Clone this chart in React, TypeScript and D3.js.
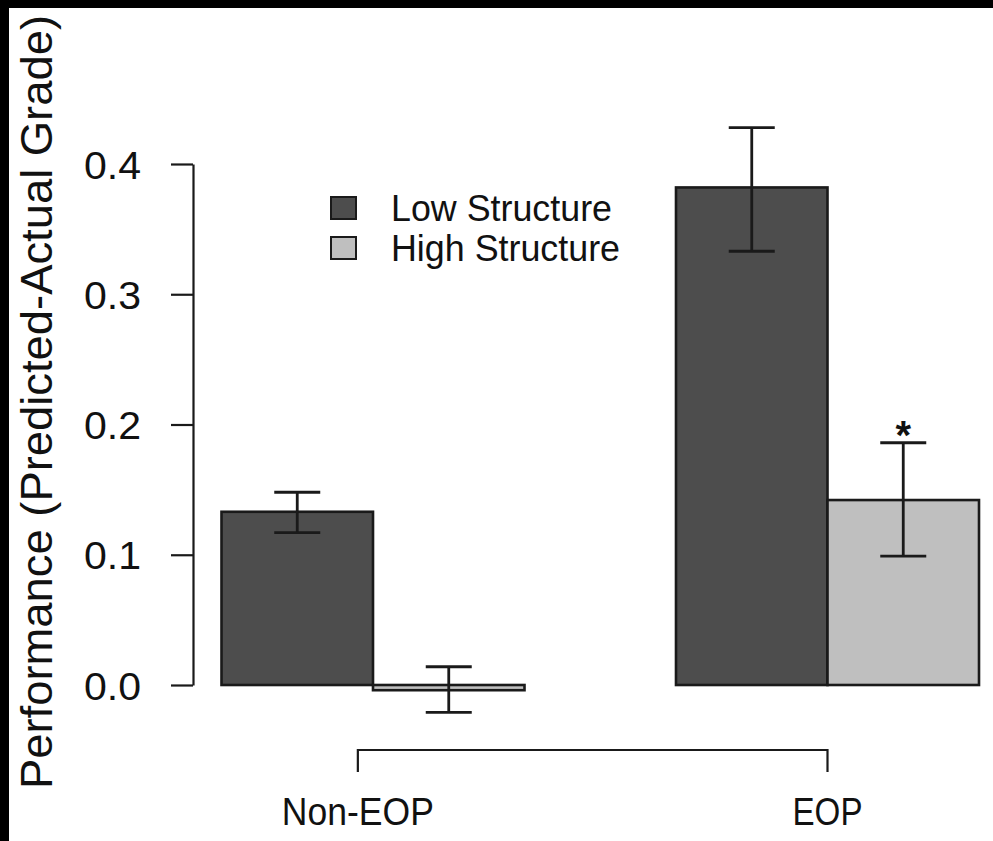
import { useEffect, useRef } from "react";
import * as d3 from "d3";

const groups = ["Non-EOP", "EOP"];
const seriesNames = ["Low Structure", "High Structure"];
const seriesColors = ["#4d4d4d", "#bfbfbf"];
// mean, lower, upper per group for each series
const lowMeans = [0.133, 0.382];
const lowLower = [0.117, 0.333];
const lowUpper = [0.148, 0.428];
const highMeans = [-0.004, 0.142];
const highLower = [-0.021, 0.099];
const highUpper = [0.014, 0.186];
const yTicks = [0, 0.1, 0.2, 0.3, 0.4];
const groupAxisAt = [1.9, 5];
const starred = [false, true];

export default function App() {
    const svgRef = useRef<SVGSVGElement>(null);

    useEffect(() => {
        const svg = d3.select(svgRef.current);
        svg.selectAll("*").remove();

        const width = 993;
        const height = 841;
        const font = "'Liberation Sans', Arial, Helvetica, sans-serif";

        svg.append("rect").attr("width", width).attr("height", height).attr("fill", "#000");
        svg.append("rect").attr("x", 9).attr("y", 8).attr("width", width - 9).attr("height", height - 8).attr("fill", "#fff");

        // bar units like R barplot(beside=TRUE, space=c(0,1))
        const x = d3.scaleLinear().domain([0, 6]).range([70, 979]);
        const y = d3.scaleLinear().domain([0, 0.4]).range([685, 164]);

        const bars = groups.flatMap((g, i) => [
            { g, i, s: 0, v: lowMeans[i], lo: lowLower[i], hi: lowUpper[i] },
            { g, i, s: 1, v: highMeans[i], lo: highLower[i], hi: highUpper[i] },
        ]);

        const g = svg.append("g");

        g.selectAll(".bar")
            .data(bars)
            .enter()
            .append("rect")
            .attr("class", "bar")
            .attr("x", (d) => x(1 + d.i * 3 + d.s))
            .attr("width", x(1) - x(0))
            .attr("y", (d) => y(Math.max(0, d.v)))
            .attr("height", (d) => Math.abs(y(d.v) - y(0)))
            .attr("fill", (d) => seriesColors[d.s])
            .attr("stroke", "#1a1a1a")
            .attr("stroke-width", 2.6);

        // error bars
        const capW = 23;
        const eb = g.selectAll(".err").data(bars).enter().append("g").attr("class", "err")
            .attr("stroke", "#1a1a1a").attr("stroke-width", 2.8);
        const cx = (d) => x(1.5 + d.i * 3 + d.s);
        eb.append("line").attr("x1", cx).attr("x2", cx).attr("y1", (d) => y(d.lo)).attr("y2", (d) => y(d.hi));
        eb.append("line").attr("x1", (d) => cx(d) - capW).attr("x2", (d) => cx(d) + capW)
            .attr("y1", (d) => y(d.lo)).attr("y2", (d) => y(d.lo));
        eb.append("line").attr("x1", (d) => cx(d) - capW).attr("x2", (d) => cx(d) + capW)
            .attr("y1", (d) => y(d.hi)).attr("y2", (d) => y(d.hi));

        // significance star
        g.selectAll(".star")
            .data(bars.filter((d) => d.s === 1 && starred[d.i]))
            .enter()
            .append("text")
            .attr("x", cx)
            .attr("y", (d) => y(d.hi) + 6)
            .attr("text-anchor", "middle")
            .attr("font-family", font)
            .attr("font-size", 40)
            .attr("font-weight", "bold")
            .attr("fill", "#111")
            .text("*");

        // y axis
        const ax = svg.append("g").attr("transform", "translate(193,0)");
        ax.call(d3.axisLeft(y).tickValues(yTicks).tickSize(22).tickSizeOuter(0).tickPadding(30).tickFormat(d3.format(".1f")));
        ax.selectAll("line, path").attr("stroke", "#1a1a1a").attr("stroke-width", 2.2);
        ax.selectAll("text").attr("font-family", font).attr("font-size", 39).attr("fill", "#111").attr("dy", "0.36em")
            .attr("textLength", 57).attr("lengthAdjust", "spacingAndGlyphs");

        svg.append("text")
            .attr("transform", "translate(52,402) rotate(-90)")
            .attr("text-anchor", "middle")
            .attr("font-family", font)
            .attr("font-size", 44)
            .attr("fill", "#111")
            .attr("textLength", 774)
            .attr("lengthAdjust", "spacingAndGlyphs")
            .text("Performance (Predicted-Actual Grade)");

        // group bracket axis
        const bx = groupAxisAt.map((v) => x(v));
        svg.append("path")
            .attr("d", `M${bx[0]},772V750H${bx[1]}V772`)
            .attr("fill", "none")
            .attr("stroke", "#1a1a1a")
            .attr("stroke-width", 2.2);
        svg.selectAll(".glab")
            .data(groups)
            .enter()
            .append("text")
            .attr("x", (d, i) => bx[i])
            .attr("y", 825)
            .attr("text-anchor", "middle")
            .attr("font-family", font)
            .attr("font-size", 38)
            .attr("fill", "#111")
            .attr("textLength", (d) => (d === "EOP" ? 70 : 152))
            .attr("lengthAdjust", "spacingAndGlyphs")
            .text((d) => d);

        // legend
        const leg = svg.append("g").attr("transform", "translate(331,197)");
        const li = leg.selectAll("g").data(seriesNames).enter().append("g")
            .attr("transform", (d, i) => `translate(0,${i * 40})`);
        li.append("rect").attr("width", 25).attr("height", 22)
            .attr("fill", (d, i) => seriesColors[i]).attr("stroke", "#1a1a1a").attr("stroke-width", 2);
        li.append("text")
            .attr("x", 60)
            .attr("y", 11)
            .attr("dy", "0.36em")
            .attr("font-family", font)
            .attr("font-size", 37)
            .attr("fill", "#111")
            .attr("textLength", (d, i) => (i === 0 ? 221 : 229))
            .attr("lengthAdjust", "spacingAndGlyphs")
            .text((d) => d);
    }, []);

    return (
        <div style={{ position: "absolute", left: 0, top: 0 }}>
            <svg ref={svgRef} width={993} height={841} style={{ display: "block" }} />
        </div>
    );
}
